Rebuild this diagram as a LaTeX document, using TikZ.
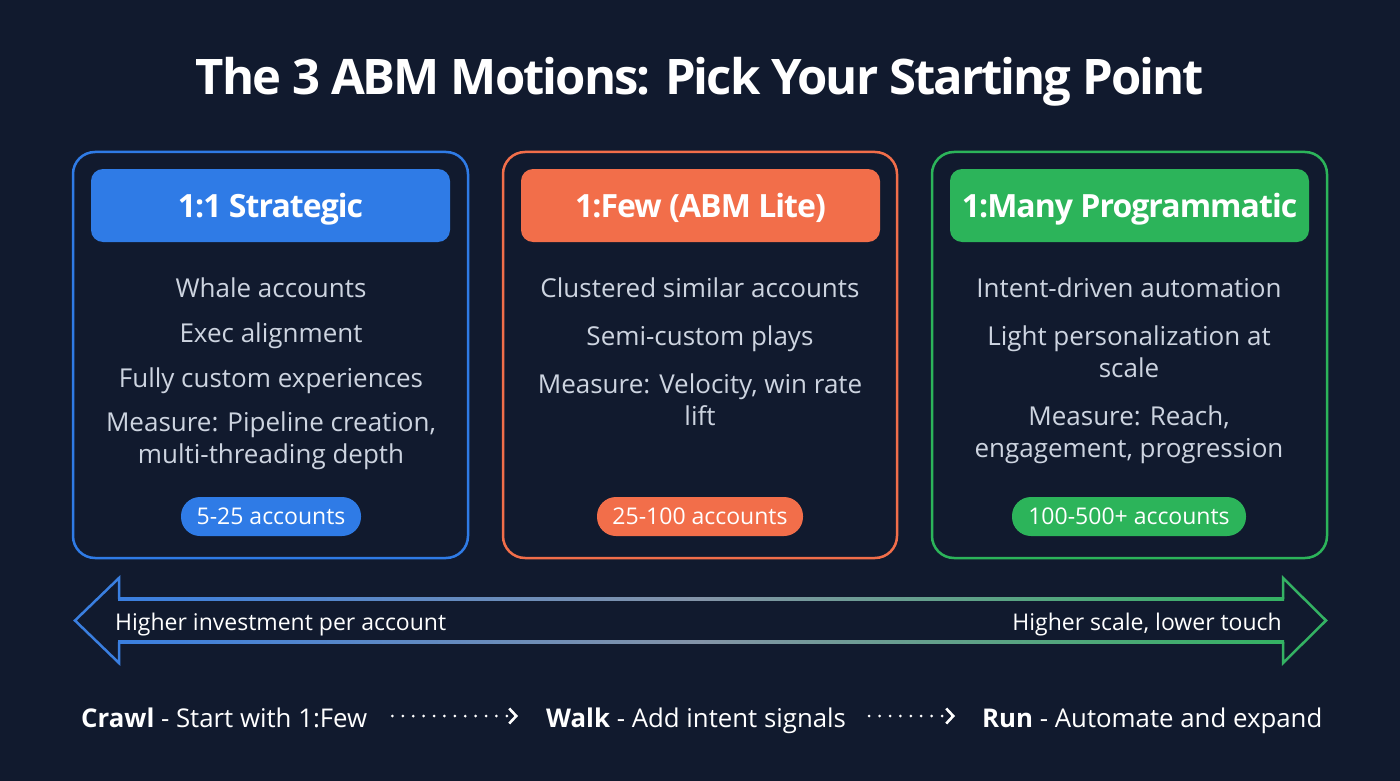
\documentclass[tikz,border=0pt]{standalone}
\usepackage{fontspec}
\setmainfont{Open Sans}
\usetikzlibrary{arrows.meta}
\definecolor{bg}{HTML}{111A2E}
\definecolor{cblue}{HTML}{2F7BE6}
\definecolor{corange}{HTML}{F26E4A}
\definecolor{cgreen}{HTML}{2CB45A}
\definecolor{bodytxt}{HTML}{CDD4E0}
\definecolor{midgrey}{HTML}{8494A8}
\definecolor{ablue}{HTML}{3A7FE0}
\definecolor{agreen}{HTML}{34B263}
\tikzset{
  panel/.style={draw=#1, line width=2.5pt, rounded corners=22pt, inner sep=0pt},
  header/.style={fill=#1, rounded corners=12pt, inner sep=0pt},
  pill/.style={fill=#1, rounded corners=19pt, inner sep=0pt},
  headtxt/.style={anchor=base, text=white, font=\fontsize{32}{38}\selectfont\bfseries\addfontfeature{LetterSpace=-3}, inner sep=0pt},
  bodyline/.style={anchor=base, text=bodytxt, font=\fontsize{26}{30}\selectfont, inner sep=0pt},
  pilltxt/.style={anchor=base, text=white, font=\fontsize{23}{26}\selectfont, inner sep=0pt},
  arrtxt/.style={text=white, font=\fontsize{23}{28}\selectfont, inner sep=0pt},
  steptxt/.style={anchor=base west, text=white, font=\fontsize{25.8}{30}\selectfont, inner sep=0pt},
  dotarrow/.style={white, line width=3pt, line cap=round, dash pattern=on 0pt off 10.4pt,
     -{Straight Barb[length=7pt, width=15pt, line width=2.6pt, sep=0pt]}},
}
\begin{document}
\begin{tikzpicture}[x=1pt,y=-1pt]
\useasboundingbox (0,0) rectangle (1400,781);
\fill[bg] (0,0) rectangle (1400,781);

% title
\node[anchor=base, text=white, font=\fontsize{49}{56}\selectfont\bfseries\addfontfeature{LetterSpace=-4}, inner sep=0pt] (title) at (700,95)
  {The 3 ABM Motions: Pick Your Starting Point};

% ---------- panel 1
\node[panel=cblue, minimum width=395pt, minimum height=406pt] (box1) at (270.5,355) {};
\node[header=cblue, minimum width=359pt, minimum height=73pt] (h1) at (270.5,205.5) {};
\node[headtxt] (h1t) at (270.5,217) {1:1 Strategic};
\node[bodyline] (b1a) at (271,297) {Whale accounts};
\node[bodyline] (b1b) at (271,342) {Exec alignment};
\node[bodyline] (b1c) at (271,387) {Fully custom experiences};
\node[bodyline] (b1d) at (271,431) {Measure: Pipeline creation,};
\node[bodyline] (b1e) at (271,463) {multi-threading depth};
\node[pill=cblue, minimum width=180pt, minimum height=39pt] (p1) at (271,516.5) {};
\node[pilltxt] (p1t) at (271,524) {5-25 accounts};

% ---------- panel 2
\node[panel=corange, minimum width=394pt, minimum height=406pt] (box2) at (700,355) {};
\node[header=corange, minimum width=359pt, minimum height=73pt] (h2) at (700.5,205.5) {};
\node[headtxt] (h2t) at (700.5,217) {1:Few (ABM Lite)};
\node[bodyline] (b2a) at (700,297) {Clustered similar accounts};
\node[bodyline] (b2b) at (700,345) {Semi-custom plays};
\node[bodyline] (b2c) at (700,393) {Measure: Velocity, win rate};
\node[bodyline] (b2d) at (700,425) {lift};
\node[pill=corange, minimum width=206pt, minimum height=39pt] (p2) at (700,516.5) {};
\node[pilltxt] (p2t) at (700,524) {25-100 accounts};

% ---------- panel 3
\node[panel=cgreen, minimum width=395pt, minimum height=406pt] (box3) at (1129.5,355) {};
\node[header=cgreen, minimum width=359pt, minimum height=73pt] (h3) at (1129.5,205.5) {};
\node[headtxt] (h3t) at (1129.5,217) {1:Many Programmatic};
\node[bodyline] (b3a) at (1129,297) {Intent-driven automation};
\node[bodyline] (b3b) at (1129,345) {Light personalization at};
\node[bodyline] (b3c) at (1129,377) {scale};
\node[bodyline] (b3d) at (1129,425) {Measure: Reach,};
\node[bodyline] (b3e) at (1129,457) {engagement, progression};
\node[pill=cgreen, minimum width=234pt, minimum height=39pt] (p3) at (1129,516.5) {};
\node[pilltxt] (p3t) at (1129,524) {100-500+ accounts};

% ---------- double arrow (gradient outline)
\draw[ablue, line width=2.5pt, line join=miter] (119,599) -- (119,578) -- (75,620.5) -- (119,663) -- (119,642);
\draw[agreen, line width=2.5pt, line join=miter] (1283,599) -- (1283,578) -- (1326,620.5) -- (1283,663) -- (1283,642);
\shade[left color=ablue, right color=midgrey] (118,597.75) rectangle (701,600.25);
\shade[left color=midgrey, right color=agreen] (700,597.75) rectangle (1284,600.25);
\shade[left color=ablue, right color=midgrey] (118,640.75) rectangle (701,643.25);
\shade[left color=midgrey, right color=agreen] (700,640.75) rectangle (1284,643.25);
\node[arrtxt, anchor=base west] (leftlbl) at (115,630) {Higher investment per account};
\node[arrtxt, anchor=base east] (rightlbl) at (1282,630) {Higher scale, lower touch};

% ---------- bottom progression
\node[steptxt] (crawl) at (81,727) {\textbf{Crawl} - Start with 1:Few};
\node[steptxt] (walk) at (546,727) {\textbf{Walk} - Add intent signals};
\node[steptxt] (run) at (982,727) {\textbf{Run} - Automate and expand};
\draw[dotarrow] ([xshift=25pt,yshift=11pt]crawl.base east) -- ([xshift=-28pt,yshift=11pt]walk.base west);
\draw[dotarrow] ([xshift=23pt,yshift=11pt]walk.base east) -- ([xshift=-27pt,yshift=11pt]run.base west);
\end{tikzpicture}
\end{document}
